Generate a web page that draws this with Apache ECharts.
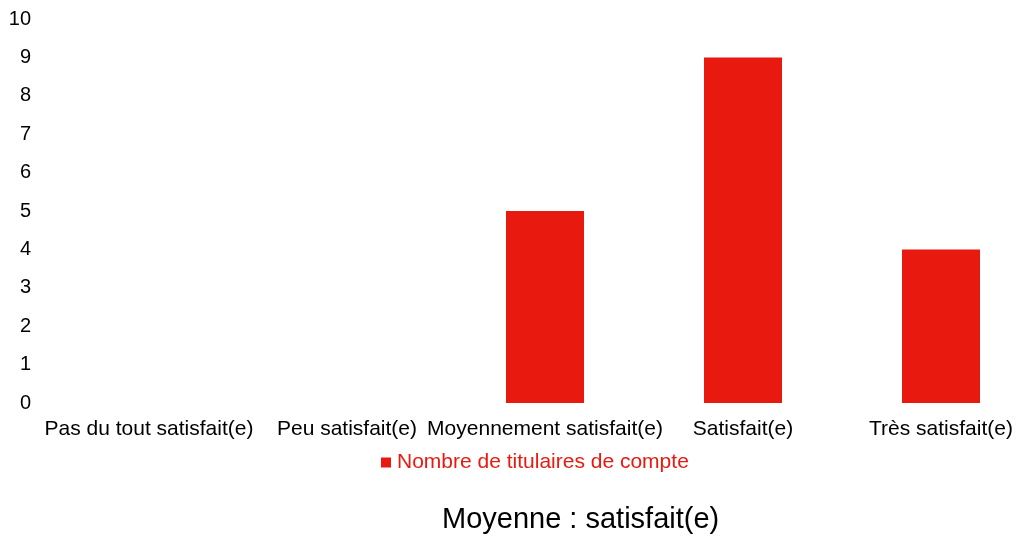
<!DOCTYPE html>
<html>
<head>
<meta charset="utf-8">
<script src="https://cdn.jsdelivr.net/npm/echarts@6/dist/echarts.min.js"></script>
<style>html,body{margin:0;padding:0;background:#fff;overflow:hidden;width:1019px;height:537px}#c{width:1040px;height:537px}</style>
</head>
<body>
<div id="c"></div>
<script>
const categories = ["Pas du tout satisfait(e)", "Peu satisfait(e)", "Moyennement satisfait(e)", "Satisfait(e)", "Très satisfait(e)"];
const seriesName = "Nombre de titulaires de compte";
const values = [0, 0, 5, 9, 4];
const yTicks = {min: 0, max: 10, interval: 1};
const titleText = "Moyenne : satisfait(e)";

const chart = echarts.init(document.getElementById('c'), null, {renderer: 'canvas'});
chart.setOption({
  animation: false,
  backgroundColor: '#ffffff',
  textStyle: {fontFamily: 'Liberation Sans, Arial, sans-serif'},
  title: {
    text: titleText,
    left: 437, top: 500,
    textStyle: {fontSize: 29, fontWeight: 'normal', color: '#000', fontFamily: 'Liberation Sans, Arial, sans-serif'}
  },
  legend: {
    data: [seriesName],
    left: 381, top: 452, padding: 0,
    itemWidth: 10, itemHeight: 10, itemGap: 5,
    icon: 'rect',
    textStyle: {color: '#E8190F', fontSize: 21, padding: [0,0,0,1]}
  },
  grid: {left: 50, right: 0, top: 19, bottom: 134, containLabel: false},
  xAxis: {
    type: 'category',
    data: categories,
    axisLine: {show: false},
    axisTick: {show: false},
    axisLabel: {color: '#000', fontSize: 21, margin: 16, interval: 0}
  },
  yAxis: {
    type: 'value',
    min: yTicks.min, max: yTicks.max, interval: yTicks.interval,
    splitLine: {show: false},
    axisLine: {show: false},
    axisTick: {show: false},
    axisLabel: {color: '#000', fontSize: 20, margin: 19}
  },
  series: [{
    name: seriesName,
    type: 'bar',
    data: values,
    barWidth: 78,
    itemStyle: {color: '#E8190F'}
  }]
});
</script>
</body>
</html>
